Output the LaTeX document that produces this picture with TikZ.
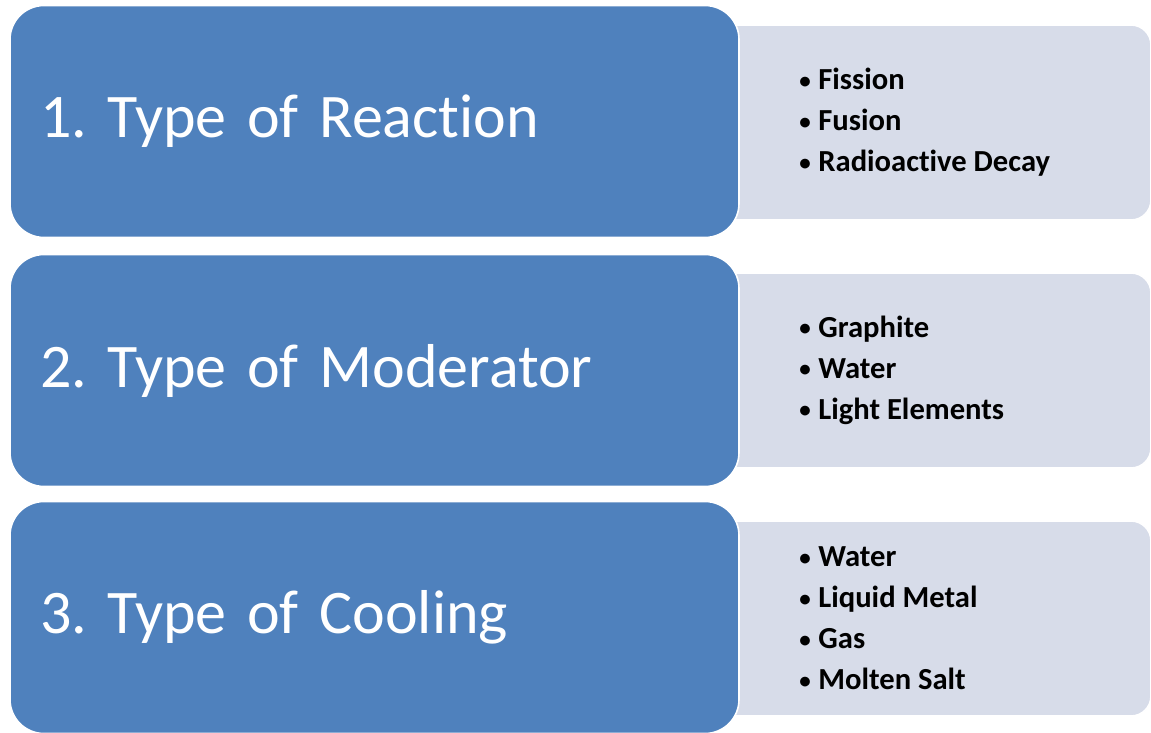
\documentclass[tikz,border=0pt]{standalone}
\usepackage{fontspec}
\setmainfont{Carlito}[Ligatures=NoCommon]
\usepackage{xcolor}
\usepackage{tikz}
\usetikzlibrary{positioning}

\definecolor{hdblue}{RGB}{79,129,189}
\definecolor{itgray}{RGB}{215,220,233}
\newcommand{\itm}[1]{\makebox[9.5pt][l]{\raisebox{0.12ex}{\scalebox{0.75}{\textbullet}}}#1}

\begin{document}
\frenchspacing
\begin{tikzpicture}[x=0.5pt, y=-0.5pt,
  head/.style={draw=white, line width=0.8pt, fill=hdblue, rounded corners=17pt,
               minimum width=364.5pt, minimum height=116pt, inner xsep=15pt,
               text width=334.5pt, align=left, text=white,
               font=\fontsize{31}{36}\selectfont},
  item/.style={fill=itgray, draw=white, line width=0.8pt, rounded corners=10pt,
               minimum width=225.5pt, minimum height=97.5pt, inner sep=0pt},
  lst/.style={anchor=west, align=left, inner sep=0pt,
              font=\bfseries\fontsize{15.3}{20.5}\selectfont},
]
\useasboundingbox (0,0) rectangle (1151,733);

% ====== Row 1: reaction ======
\node[item] (g1) at (925.5, 122.5) {};
\node[head] (h1) at (374.5, 121.5) {1. Type of Reaction};
\node[lst]  (l1) at (799, 122.5) {\itm{Fission}\\ \itm{Fusion}\\ \itm{Radioactive Decay}};

% ====== Row 2: moderator ======
\node[item] (g2) at (925.5, 370.5) {};
\node[head] (h2) at (374.5, 370.5) {2. Type of Moderator};
\node[lst]  (l2) at (799, 370.5) {\itm{Graphite}\\ \itm{Water}\\ \itm{Light Elements}};

% ====== Row 3: cooling ======
\node[item] (g3) at (925.5, 618.5) {};
\node[head] (h3) at (374.5, 617.5) {3. Type of Cooling};
\node[lst]  (l3) at (799, 618.5) {\itm{Water}\\ \itm{Liquid Metal}\\ \itm{Gas}\\ \itm{Molten Salt}};

\end{tikzpicture}
\end{document}
